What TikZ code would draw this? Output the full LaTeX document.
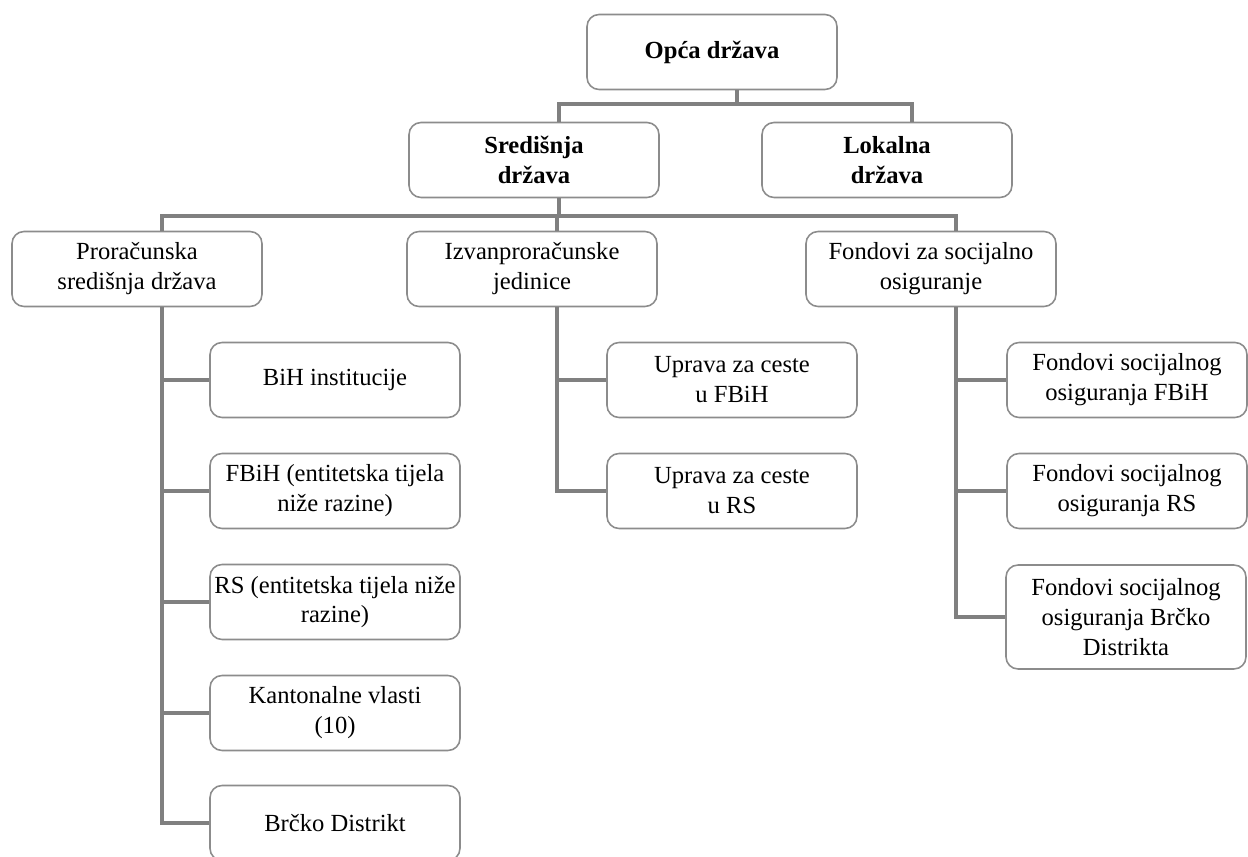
\documentclass[tikz,border=0pt]{standalone}
\usepackage{fontspec}
\setmainfont{Liberation Serif}
\usetikzlibrary{positioning}
\definecolor{linegray}{HTML}{808080}
\definecolor{boxgray}{HTML}{8C8C8C}
\tikzstyle{unit} = [rectangle, rounded corners=0.24cm, draw=boxgray, line width=0.9pt, minimum width=5cm, minimum height=1.5cm, align=center, font=\fontsize{14}{17}\selectfont, fill=white]
\tikzstyle{head} = [unit, font=\fontsize{14}{17}\selectfont\bfseries]
\tikzstyle{sub} = [unit, minimum width=4.8cm]
\tikzstyle{link} = [draw=linegray, line width=2.1pt]

\begin{document}
\begin{tikzpicture}[x=0.02cm, y=-0.02cm]
    \useasboundingbox (0,0) rectangle (1248,857);
    % top levels
    \node [head] at (712,52) (opca) {Opća država};
    \node [head] at (534,160) (sred) {Središnja\\država};
    \node [head] at (887,160) (lok) {Lokalna\\država};
    \node [unit] at (137,269) (prorac) {Proračunska\\središnja država};
    \node [unit] at (532,269) (izvan) {Izvanproračunske\\jedinice};
    \node [unit] at (931,269) (fond) {Fondovi za socijalno\\osiguranje};
    % proracunska sredisnja drzava
    \node [unit] at (335,380) (bih) {BiH institucije};
    \node [unit] at (335,491) (fbih) {FBiH (entitetska tijela\\niže razine)};
    \node [unit, inner xsep=0pt] at (335,602) (rs) {RS (entitetska tijela niže\\razine)};
    \node [unit] at (335,713) (kant) {Kantonalne vlasti\\(10)};
    \node [unit] at (335,823) (brcko) {Brčko Distrikt};
    % izvanproracunske jedinice
    \node [unit] at (732,380) (cesteF) {Uprava za ceste\\u FBiH};
    \node [unit] at (732,491) (cesteR) {Uprava za ceste\\u RS};
    % fondovi
    \node [sub] at (1127,380) (socF) {Fondovi socijalnog\\osiguranja FBiH};
    \node [sub] at (1127,491) (socR) {Fondovi socijalnog\\osiguranja RS};
    \node [sub, minimum height=2.08cm] at (1126,617) (socB) {Fondovi socijalnog\\osiguranja Brčko\\Distrikta};
    \draw [link] ([xshift=0.5cm]opca.south) -- ++(0,15);
    \draw [link] ([xshift=0.5cm]sred.north) -- ++(0,-18) -| ([xshift=0.5cm]lok.north);
    \draw [link] ([xshift=0.5cm]sred.south) -- ++(0,18);
    \draw [link] ([xshift=0.5cm]prorac.north) -- ++(0,-15) -| ([xshift=0.5cm]fond.north);
    \draw [link] ([xshift=0.5cm]izvan.north) -- ++(0,-15);
    \foreach \c in {bih,fbih,rs,kant,brcko}
        \draw [link] ([xshift=0.5cm]prorac.south) |- (\c.west);
    \foreach \c in {cesteF,cesteR}
        \draw [link] ([xshift=0.5cm]izvan.south) |- (\c.west);
    \foreach \c in {socF,socR,socB}
        \draw [link] ([xshift=0.5cm]fond.south) |- (\c.west);
\end{tikzpicture}
\end{document}
